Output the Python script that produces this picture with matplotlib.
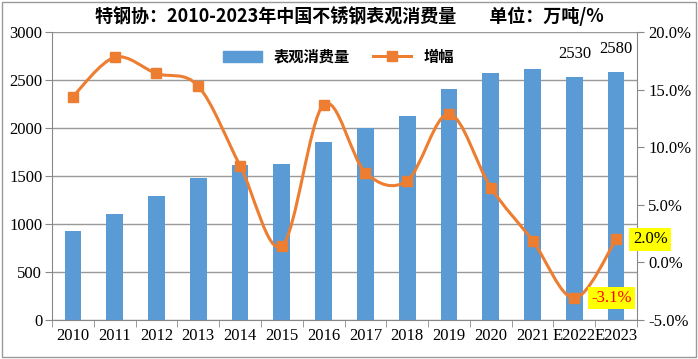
import matplotlib
matplotlib.use('Agg')
import matplotlib.pyplot as plt
import numpy as np
from matplotlib.path import Path
from matplotlib.patches import PathPatch, Rectangle
from matplotlib.lines import Line2D

years = ['2010', '2011', '2012', '2013', '2014', '2015', '2016', '2017',
         '2018', '2019', '2020', '2021', 'E2022', 'E2023']
consumption = [930, 1100, 1290, 1480, 1610, 1630, 1850, 2000,
               2130, 2410, 2570, 2610, 2530, 2580]
growth = [14.4, 17.8, 16.4, 15.3, 8.4, 1.4, 13.7, 7.8,
          7.1, 12.9, 6.5, 1.9, -3.1, 2.0]

blue = '#5B9BD5'
orange = '#ED7D31'
cjk = ['Noto Sans CJK SC', 'DejaVu Sans']
num_font = 'Liberation Serif'

fig = plt.figure(figsize=(6.98, 3.59), dpi=100)
ax = fig.add_axes([52 / 698, 39 / 359, 585 / 698, 288 / 359])
ax2 = ax.twinx()

x = np.arange(len(years))
ax.bar(x, consumption, width=0.4, color=blue, zorder=2)
ax.set_xlim(-0.5, len(years) - 0.5)
ax.set_ylim(0, 3000)
ax.set_yticks(range(0, 3001, 500))
ax.grid(axis='y', color='#999999', linewidth=1, zorder=0)
ax.set_axisbelow(True)

ax.set_xticks(x)
ax.set_xticklabels(years, fontfamily=num_font, fontsize=12)
ax.set_xticks(np.arange(-0.5, len(years)), minor=True)
ax.tick_params(axis='x', which='major', length=0, pad=6)
ax.tick_params(axis='x', which='minor', length=5, color='#888888')
ax.tick_params(axis='y', length=5, color='#888888', pad=2)
for lab in ax.get_yticklabels():
    lab.set_fontfamily(num_font)
    lab.set_fontsize(12)

for sp in ['left', 'bottom']:
    ax.spines[sp].set_color('#888888')
for sp in ['top', 'right']:
    ax.spines[sp].set_visible(False)
for sp in ['top', 'left', 'bottom']:
    ax2.spines[sp].set_visible(False)
ax2.spines['right'].set_color('#888888')

# labels on the two estimated bars
for i in (12, 13):
    ax.annotate(str(consumption[i]), (x[i], consumption[i]), xytext=(0, 11),
                textcoords='offset points', ha='center', va='bottom',
                fontfamily=num_font, fontsize=12)

# right axis: growth, smoothed line like Excel
ax2.set_ylim(-5, 20)
ax2.set_yticks(np.arange(-5, 20.1, 5))
ax2.set_yticklabels(['%.1f%%' % v for v in np.arange(-5, 20.1, 5)],
                    fontfamily=num_font, fontsize=12)
ax2.tick_params(axis='y', length=5, color='#888888', pad=3)

g = np.array(growth, dtype=float)
verts = [(x[0], g[0])]
codes = [Path.MOVETO]
t = 1 / 6
for i in range(len(x) - 1):
    p0 = np.array([x[max(i - 1, 0)], g[max(i - 1, 0)]])
    p1 = np.array([x[i], g[i]])
    p2 = np.array([x[i + 1], g[i + 1]])
    p3 = np.array([x[min(i + 2, len(x) - 1)], g[min(i + 2, len(x) - 1)]])
    c1 = p1 + (p2 - p0) * t
    c2 = p2 - (p3 - p1) * t
    verts += [tuple(c1), tuple(c2), tuple(p2)]
    codes += [Path.CURVE4] * 3
ax2.add_patch(PathPatch(Path(verts, codes), fill=False, edgecolor=orange,
                        linewidth=2.2, zorder=3))
ax2.plot(x, g, 's', color=orange, markersize=7, zorder=4)

ax2.annotate('-3.1%', (x[12], g[12]), xytext=(12, 0), textcoords='offset points',
             ha='left', va='center', color='red', fontfamily=num_font, fontsize=12,
             bbox=dict(boxstyle='square,pad=0.2', fc='yellow', ec='none'), zorder=5)
ax2.annotate('2.0%', (x[13], g[13]), xytext=(12, 0), textcoords='offset points',
             ha='left', va='center', color='black', fontfamily=num_font, fontsize=12,
             bbox=dict(boxstyle='square,pad=0.2', fc='yellow', ec='none'),
             annotation_clip=False, zorder=5)

handles = [Rectangle((0, 0), 1, 1, color=blue),
           Line2D([], [], color=orange, linewidth=2.2, marker='s', markersize=7)]
leg = ax.legend(handles, ['表观消费量', '增幅'], loc='upper center',
                bbox_to_anchor=(0.49, 0.99), ncol=2, frameon=False,
                prop={'family': cjk, 'size': 11, 'weight': 'bold'},
                handlelength=2.5, columnspacing=1.5)

fig.text(0.5, 0.955, '特钢协：2010-2023年中国不锈钢表观消费量        单位：万吨/%',
         ha='center', va='center', fontfamily=cjk, fontsize=13, fontweight='bold')

fig.patches.append(Rectangle((2 / 698, 2 / 359), 694 / 698, 355 / 359,
                             transform=fig.transFigure, fill=False,
                             edgecolor='#999999', linewidth=1))

fig.savefig('out.png', dpi=100)
